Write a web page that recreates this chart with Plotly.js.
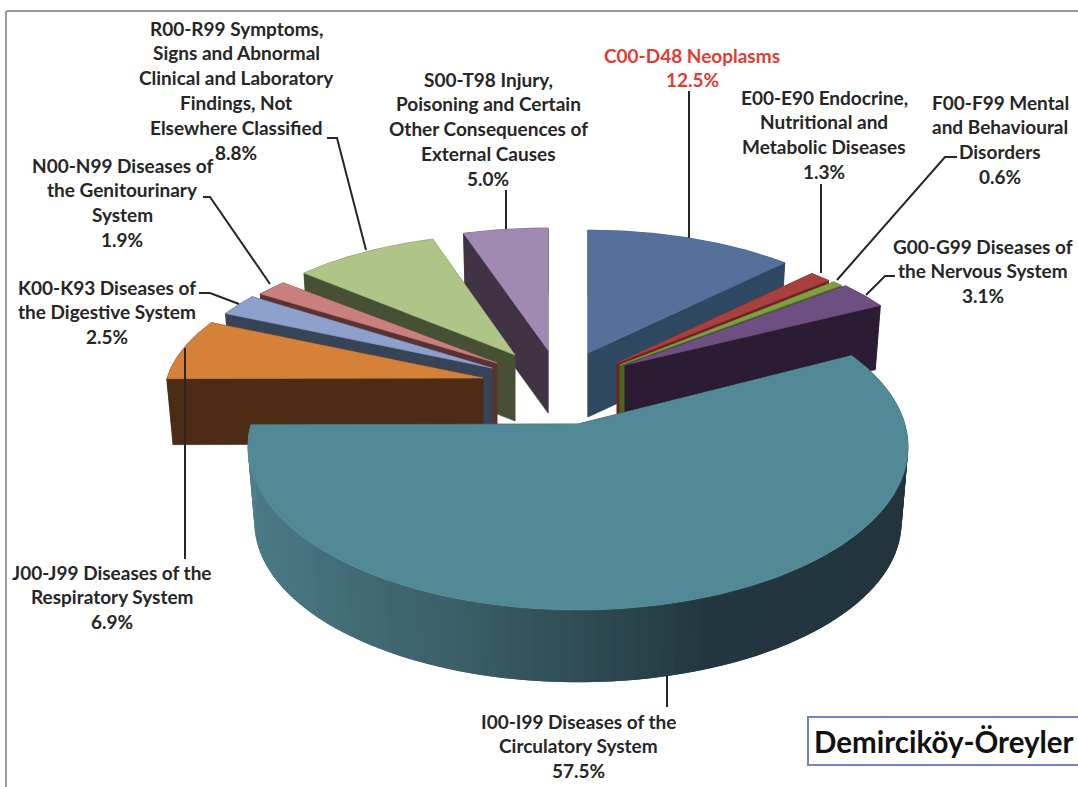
<!DOCTYPE html>
<html>
<head>
<meta charset="utf-8">
<script src="https://cdn.plot.ly/plotly-3.0.1.min.js"></script>
<style>html,body{margin:0;padding:0;background:#fff}#chart{width:1078px;height:787px}</style>
</head>
<body>
<div id="chart"></div>
<script>
// Mortality by ICD-10 chapter, clockwise from twelve o'clock
const categories = ['C00-D48 Neoplasms','E00-E90 Endocrine','F00-F99 Mental','G00-G99 Nervous','I00-I99 Circulatory','J00-J99 Respiratory','K00-K93 Digestive','N00-N99 Genitourinary','R00-R99 Symptoms','S00-T98 Injury'];
const values = [12.5, 1.3, 0.6, 3.1, 57.5, 6.9, 2.5, 1.9, 8.8, 5.0];
const labelLines = [
  ['C00-D48 Neoplasms'],
  ['E00-E90 Endocrine,','Nutritional and','Metabolic Diseases'],
  ['F00-F99 Mental','and Behavioural','Disorders'],
  ['G00-G99 Diseases of','the Nervous System'],
  ['I00-I99 Diseases of the','Circulatory System'],
  ['J00-J99 Diseases of the','Respiratory System'],
  ['K00-K93 Diseases of','the Digestive System'],
  ['N00-N99 Diseases of','the Genitourinary','System'],
  ['R00-R99 Symptoms,','Signs and Abnormal','Clinical and Laboratory','Findings, Not','Elsewhere Classified'],
  ['S00-T98 Injury,','Poisoning and Certain','Other Consequences of','External Causes']
];
const chartName = 'Demirciköy-Öreyler';

// Slice styling
const topColors  = ['#54709b','#a8403e','#7f9f45','#6e4f82','#528996','#d5813a','#8ca0cb','#c97f7d','#aec587','#a08ab3'];
const wallColors = ['#2f4861','#6b2422','#4c6420','#2c1c33','#21333a','#4c2c15','#374356','#5a3230','#465035','#403444'];

// Exploded placement of each slice: apex, radii, extrusion depth
const apexX  = [588, 617, 620, 625, 578, 483, 492, 497, 515, 548];
const apexY  = [353, 363, 365, 365, 424, 378, 368, 363, 355, 350];
const radiusX = [306, 303, 306, 305, 327, 316, 310, 306, 302, 310];
const radiusY = [140, 139, 140, 139, 160, 141, 139, 135, 138, 139];
const depths  = [64, 62, 62, 63, 76, 66, 62, 62, 66, 63];
const perspective = 0.14;
const baseShrink = 0.98;

// Back-to-front drawing order
const paintOrder = [0, 1, 2, 3, 9, 8, 7, 6, 5, 4];

// Shading of the large slice's outer wall, by angle in degrees
const shadeStops = [[90,[33,51,58]],[160,[35,55,64]],[180,[47,77,84]],[200,[59,96,105]],[230,[71,115,126]],[270,[78,128,140]]];

// Label anchors: centre x, y of first line; leader polylines
const labelX = [692, 824, 1000, 983, 578, 112, 107, 122, 236, 488];
const labelY = [55, 97, 102, 246, 721, 572, 287, 165, 28, 79];
const lineStep = 24.9;
const leaderX = [[689,689],[821,821],[957,945,837],[895,885,866],[667,667],[185,185],[199,210,239],[203,210,270],[327,337,366],[506,506]];
const leaderY = [[91,238],[184,273],[157,157,280],[276,276,295],[675,707],[348,559],[293,293,304],[197,197,284],[138,138,250],[190,229]];

// Project a point on the unit disc of slice i through the pie's perspective
function project(i, deg, scale, drop) {
  const t = deg * Math.PI / 180, u = Math.sin(t), v = Math.cos(t), w = 1 + perspective * v;
  return [apexX[i] + scale * radiusX[i] * u / w, apexY[i] + drop - scale * radiusY[i] * v / w];
}
function poly(points, color, stroke) {
  return {type:'scatter', mode:'lines', x:points.map(p=>p[0]), y:points.map(p=>p[1]), fill:'toself',
          fillcolor:color, line:{color:color, width:stroke === undefined ? 0.6 : stroke}, hoverinfo:'skip', showlegend:false};
}
function shade(deg) {
  for (let k = 1; k < shadeStops.length; k++) {
    if (deg <= shadeStops[k][0]) {
      const a = shadeStops[k-1], b = shadeStops[k], f = Math.max(0,(deg-a[0])/(b[0]-a[0]));
      return 'rgb(' + a[1].map((c,j)=>Math.round(c+(b[1][j]-c)*f)).join(',') + ')';
    }
  }
  return '#4e808c';
}

// Slice spans in degrees from the values
const total = values.reduce((a,b)=>a+b,0);
const starts = [], ends = [];
values.reduce((acc,v,i)=>{ starts[i]=acc/total*360; ends[i]=(acc+v)/total*360; return acc+v; },0);

const traces = [];
paintOrder.forEach(i => {
  const a0 = starts[i], a1 = ends[i], d = depths[i];
  const topApex = [apexX[i], apexY[i]], baseApex = [apexX[i], apexY[i]+d];
  // radial walls
  [a0,a1].forEach(a => traces.push(poly([topApex, project(i,a,1,0), project(i,a,baseShrink,d), baseApex, topApex], wallColors[i])));
  // outer wall: the large slice is shaded in overlapping strips, painted from the dark end
  if (i === 4) {
    const step = 2;
    for (let a = a0; a < a1; a += step) {
      const upper = [], lower = [], b = Math.min(a + 2*step, a1);
      for (let c = a; c < b; c += 0.5) { upper.push(project(i,c,1,0)); lower.unshift(project(i,c,baseShrink,d)); }
      upper.push(project(i,b,1,0)); lower.unshift(project(i,b,baseShrink,d));
      traces.push(poly(upper.concat(lower, [upper[0]]), shade(a + step/2), 0));
    }
  } else {
    const upper = [], lower = [];
    for (let a = a0; a <= a1; a += 0.5) { upper.push(project(i,a,1,0)); lower.unshift(project(i,a,baseShrink,d)); }
    upper.push(project(i,a1,1,0)); lower.unshift(project(i,a1,baseShrink,d));
    traces.push(poly(upper.concat(lower, [upper[0]]), wallColors[i]));
  }
  // top face
  const face = [topApex];
  for (let a = a0; a < a1; a += 0.5) face.push(project(i,a,1,0));
  face.push(project(i,a1,1,0), topApex);
  traces.push(poly(face, topColors[i]));
});

// Leader lines
leaderX.forEach((xs,i) => traces.push({type:'scatter', mode:'lines', x:xs, y:leaderY[i],
  line:{color:'#262626', width:2}, hoverinfo:'skip', showlegend:false}));

// Labels, one annotation per line so the leading stays even
const annotations = [];
labelLines.forEach((lines,i) => {
  const color = i === 0 ? '#e23b33' : '#262626';
  lines.concat([values[i].toFixed(1) + '%']).forEach((txt,n) => annotations.push({
    x:labelX[i], y:labelY[i]+n*lineStep, xref:'x', yref:'y', text:'<b>'+txt+'</b>', showarrow:false,
    xanchor:'center', yanchor:'middle', font:{family:'Lato, sans-serif', size:19, color:color}
  }));
});
annotations.push({x:943.5, y:741, xref:'x', yref:'y', text:'<b>'+chartName+'</b>', showarrow:false,
  xanchor:'center', yanchor:'middle', font:{family:'Lato, sans-serif', size:29.5, color:'#111'}});

const layout = {
  width:1078, height:787, margin:{l:0,r:0,t:0,b:0}, paper_bgcolor:'#fff', plot_bgcolor:'#fff', showlegend:false,
  xaxis:{range:[0,1078], visible:false, fixedrange:true},
  yaxis:{range:[787,0], visible:false, fixedrange:true},
  annotations:annotations,
  shapes:[
    {type:'line', xref:'x', yref:'y', x0:6, x1:1078, y0:11, y1:11, line:{color:'#9a9a9a', width:2}},
    {type:'line', xref:'x', yref:'y', x0:6, x1:6, y0:11, y1:787, line:{color:'#9a9a9a', width:2}},
    {type:'rect', xref:'x', yref:'y', x0:808, x1:1079, y0:717, y1:765, fillcolor:'#fff', line:{color:'#6f84c0', width:2}, layer:'above'}
  ]
};
Plotly.newPlot('chart', traces, layout, {staticPlot:true, displayModeBar:false});
</script>
</body>
</html>
